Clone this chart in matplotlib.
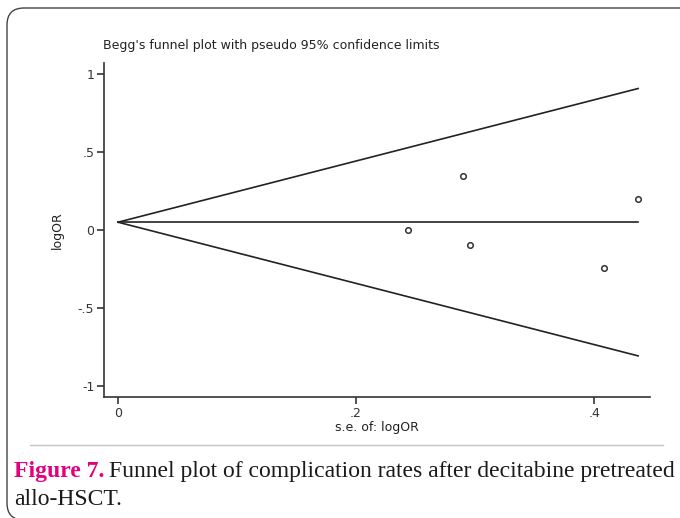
import matplotlib
matplotlib.use("Agg")
import matplotlib.pyplot as plt
import numpy as np
from matplotlib.patches import FancyBboxPatch
from matplotlib.lines import Line2D

# Data
se = [0.244, 0.290, 0.296, 0.408, 0.437]
logor = [0.000, 0.346, -0.096, -0.244, 0.199]
pooled = 0.05
se_max = 0.437
xticks = [0, 0.2, 0.4]
xticklabels = ["0", ".2", ".4"]
yticks = [1, 0.5, 0, -0.5, -1]
yticklabels = ["1", ".5", "0", "-.5", "-1"]

W, H = 680, 518
fig = plt.figure(figsize=(W/100, H/100), dpi=100)

# rounded frame (top-left corner visible, extends past right/bottom)
frame = FancyBboxPatch((7/W, -2/H), 700/W, (H-8+2)/H,
                       boxstyle="round,pad=0,rounding_size=0.025",
                       transform=fig.transFigure, fill=False,
                       edgecolor="#444444", linewidth=1.0, mutation_aspect=W/H)
fig.patches.append(frame)

ax = fig.add_axes([104/W, 1-397/H, (650-104)/W, (397-63)/H])
ax.set_xlim(-0.0118, 0.447)
ax.set_ylim(-1.07, 1.07)

s = np.array([0, se_max])
ax.plot(s, pooled + 1.96*s, color="#222222", lw=1.2)
ax.plot(s, pooled - 1.96*s, color="#222222", lw=1.2)
ax.plot(s, [pooled, pooled], color="#222222", lw=1.2)
ax.scatter(se, logor, s=16, facecolors="white", edgecolors="#333333", linewidths=1.1, zorder=3)

for sp in ["top", "right"]:
    ax.spines[sp].set_visible(False)
for sp in ["left", "bottom"]:
    ax.spines[sp].set_color("#333333")
    ax.spines[sp].set_linewidth(1.2)

fs = 9
fam = "DejaVu Sans"
ax.set_xticks(xticks)
ax.set_xticklabels(xticklabels)
ax.set_yticks(yticks)
ax.set_yticklabels(yticklabels)
ax.tick_params(direction="out", length=5, width=1.2, color="#333333",
               labelsize=fs, labelcolor="#333333", pad=2)
for lab in ax.get_xticklabels() + ax.get_yticklabels():
    lab.set_family(fam)

ax.set_ylabel("logOR", fontsize=fs, family=fam, color="#222222", labelpad=10)
ax.set_xlabel("s.e. of: logOR", fontsize=fs, family=fam, color="#222222", labelpad=1)

fig.text(103/W, 1-46/H, "Begg's funnel plot with pseudo 95% confidence limits",
         fontsize=fs, family=fam, color="#222222", va="center", ha="left")

# separator line
fig.add_artist(Line2D([30/W, 663/W], [1-445/H, 1-445/H], transform=fig.transFigure,
                      color="#c4c4c4", lw=1.0))

# caption
cfs = 17
t1 = fig.text(14/W, 1-477/H, "Figure 7.", fontsize=cfs, family="Liberation Serif",
              weight="bold", color="#e5007e", va="baseline", ha="left")
fig.canvas.draw()
bb = t1.get_window_extent()
fig.text(bb.x1/W + 5/W, 1-477/H, "Funnel plot of complication rates after decitabine pretreated",
         fontsize=cfs, family="Liberation Serif", color="#1a1a1a", va="baseline", ha="left")
fig.text(14/W, 1-505/H, "allo-HSCT.", fontsize=cfs, family="Liberation Serif",
         color="#1a1a1a", va="baseline", ha="left")

fig.savefig("out.png", dpi=100)
